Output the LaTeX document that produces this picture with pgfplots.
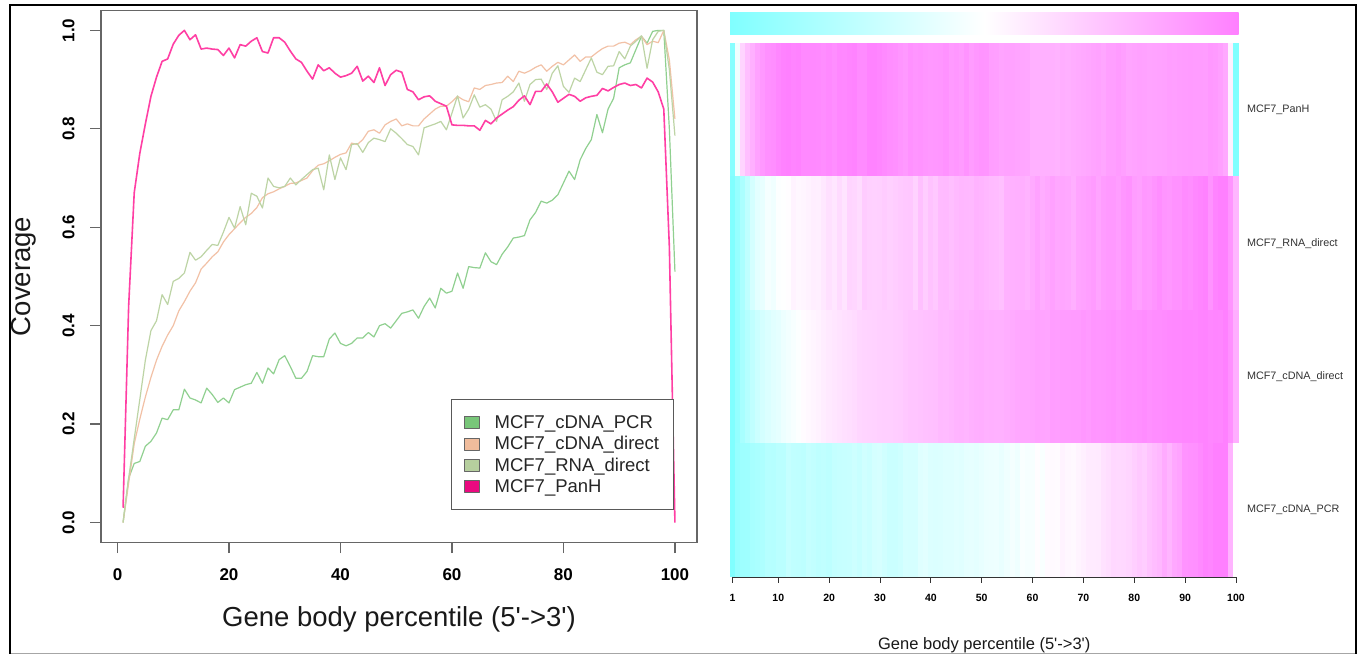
\documentclass[border=0pt]{standalone}
\usepackage{fontspec}
\setmainfont{Liberation Sans}[Ligatures=TeXOff]
\usepackage{pgfplots}
\usepackage{pgfplotstable}
\pgfplotsset{compat=1.18}
\newcommand{\fs}[1]{\fontsize{#1}{#1}\selectfont}
\definecolor{pcrline}{HTML}{90D090}
\definecolor{pcrfill}{HTML}{78C679}
\definecolor{cdnaline}{HTML}{F2C1A6}
\definecolor{cdnafill}{HTML}{F0BC9C}
\definecolor{rnaline}{HTML}{BDD4A5}
\definecolor{rnafill}{HTML}{B6CF9E}
\definecolor{panhline}{HTML}{FF3FA4}
\definecolor{panhfill}{HTML}{EA0A80}
\definecolor{cmcyan}{rgb}{0.5,1,1}
\definecolor{cmmag}{rgb}{1,0.5,1}
\pgfdeclareplotmark{hcell}{\pgfpathrectangle{\pgfqpoint{-2.7pt}{-67pt}}{\pgfqpoint{5.4pt}{134pt}}\pgfusepathqfill}

\pgfplotstableread{
x pcr cdna rna panh
1 0.00 0.00 0.00 0.03
2 0.09 0.08 0.09 0.44
3 0.12 0.16 0.17 0.67
4 0.124 0.21 0.25 0.75
5 0.155 0.255 0.33 0.81
6 0.165 0.295 0.39 0.866
7 0.182 0.33 0.41 0.905
8 0.212 0.358 0.463 0.937
9 0.209 0.381 0.443 0.942
10 0.229 0.40 0.49 0.972
11 0.229 0.43 0.496 0.99
12 0.271 0.449 0.507 1.0
13 0.253 0.47 0.549 0.981
14 0.249 0.487 0.533 0.991
15 0.243 0.515 0.54 0.962
16 0.273 0.527 0.553 0.964
17 0.26 0.54 0.565 0.962
18 0.244 0.55 0.563 0.961
19 0.253 0.57 0.59 0.949
20 0.243 0.585 0.62 0.964
21 0.27 0.597 0.598 0.944
22 0.275 0.609 0.642 0.971
23 0.28 0.62 0.605 0.968
24 0.283 0.628 0.669 0.978
25 0.305 0.64 0.663 0.985
26 0.283 0.66 0.639 0.957
27 0.314 0.668 0.70 0.954
28 0.302 0.672 0.683 0.985
29 0.331 0.678 0.68 0.985
30 0.339 0.683 0.683 0.976
31 0.317 0.689 0.70 0.958
32 0.293 0.69 0.686 0.942
33 0.293 0.695 0.697 0.935
34 0.307 0.70 0.707 0.917
35 0.339 0.715 0.717 0.901
36 0.337 0.726 0.72 0.93
37 0.337 0.729 0.676 0.918
38 0.373 0.735 0.747 0.924
39 0.385 0.742 0.697 0.913
40 0.364 0.748 0.741 0.905
41 0.359 0.751 0.717 0.908
42 0.364 0.771 0.768 0.913
43 0.375 0.768 0.77 0.927
44 0.375 0.778 0.752 0.897
45 0.386 0.795 0.772 0.907
46 0.377 0.798 0.781 0.894
47 0.40 0.791 0.778 0.924
48 0.404 0.808 0.774 0.888
49 0.395 0.815 0.80 0.91
50 0.41 0.82 0.791 0.919
51 0.425 0.806 0.78 0.915
52 0.428 0.81 0.768 0.88
53 0.432 0.806 0.764 0.875
54 0.415 0.806 0.747 0.859
55 0.439 0.82 0.802 0.865
56 0.456 0.83 0.806 0.867
57 0.436 0.84 0.81 0.856
58 0.476 0.846 0.815 0.851
59 0.466 0.846 0.798 0.846
60 0.47 0.855 0.832 0.808
61 0.507 0.866 0.867 0.807
62 0.476 0.859 0.822 0.807
63 0.52 0.855 0.84 0.806
64 0.518 0.883 0.869 0.806
65 0.517 0.88 0.844 0.797
66 0.548 0.888 0.849 0.817
67 0.53 0.89 0.84 0.81
68 0.524 0.893 0.815 0.822
69 0.545 0.894 0.859 0.83
70 0.56 0.907 0.866 0.838
71 0.578 0.896 0.875 0.845
72 0.58 0.917 0.893 0.858
73 0.583 0.913 0.856 0.867
74 0.615 0.918 0.89 0.849
75 0.63 0.925 0.90 0.876
76 0.653 0.93 0.901 0.876
77 0.649 0.917 0.88 0.891
78 0.655 0.927 0.913 0.875
79 0.666 0.935 0.928 0.854
80 0.69 0.93 0.886 0.862
81 0.714 0.94 0.874 0.87
82 0.697 0.95 0.903 0.866
83 0.737 0.937 0.896 0.856
84 0.76 0.946 0.92 0.863
85 0.778 0.946 0.944 0.866
86 0.829 0.955 0.915 0.868
87 0.792 0.963 0.91 0.882
88 0.84 0.968 0.927 0.877
89 0.862 0.968 0.928 0.884
90 0.924 0.974 0.957 0.89
91 0.93 0.976 0.942 0.893
92 0.934 0.971 0.968 0.888
93 0.961 0.981 0.978 0.89
94 0.988 0.988 0.989 0.883
95 0.974 0.971 0.923 0.903
96 0.998 0.978 0.981 0.895
97 1.0 0.975 0.998 0.875
98 1.0 1.0 1.0 0.84
99 0.80 0.94 0.92 0.56
100 0.51 0.82 0.786 0.0
}\covdata

\begin{document}
\begin{tikzpicture}
\useasboundingbox (0pt,0pt) rectangle (1364pt,655pt);
\fill[white] (0pt,0pt) rectangle (1364pt,655pt);

% ---------------- left: coverage line plot ----------------
\begin{axis}[
  at={(101pt,112.8pt)}, anchor=south west, scale only axis,
  width=596pt, height=531.5pt,
  xmin=-2.96, xmax=103.96, ymin=-0.04, ymax=1.04,
  xtick={0,20,40,60,80,100}, ytick={0,0.2,0.4,0.6,0.8,1},
  xtick pos=left, ytick pos=left,
  tick align=outside, major tick length=11pt,
  tick style={black!60, line width=1.3pt},
  axis line style={black!60, line width=1.3pt},
  /pgf/number format/assume math mode=true,
  ticklabel style={font=\bfseries\fs{17}, text=black},
  xticklabel shift=12pt, yticklabel shift=12pt,
  yticklabel style={rotate=90, anchor=south, /pgf/number format/.cd, fixed, fixed zerofill, precision=1},
  clip=false,
  legend cell align=left,
  legend style={at={(rel axis cs:0.588,0.2694)}, anchor=north west,
    draw=black!65, line width=1pt, font=\fs{18.5}, text=black!85,
    inner xsep=12pt, inner ysep=14pt, row sep=2.5pt,
    /tikz/every odd column/.append style={column sep=13pt}},
]
\addplot[pcrline, line width=1.2pt, no marks, line join=round,
  legend image code/.code={\draw[draw=black!60, line width=0.7pt, fill=pcrfill] (0pt,-6pt) rectangle (15pt,6pt);}]
  table[x=x, y=pcr]{\covdata};
\addlegendentry{MCF7\_cDNA\_PCR}
\addplot[cdnaline, line width=1.2pt, no marks, line join=round,
  legend image code/.code={\draw[draw=black!60, line width=0.7pt, fill=cdnafill] (0pt,-6pt) rectangle (15pt,6pt);}]
  table[x=x, y=cdna]{\covdata};
\addlegendentry{MCF7\_cDNA\_direct}
\addplot[rnaline, line width=1.2pt, no marks, line join=round,
  legend image code/.code={\draw[draw=black!60, line width=0.7pt, fill=rnafill] (0pt,-6pt) rectangle (15pt,6pt);}]
  table[x=x, y=rna]{\covdata};
\addlegendentry{MCF7\_RNA\_direct}
\addplot[panhline, line width=1.6pt, no marks, line join=round,
  legend image code/.code={\draw[draw=black!60, line width=0.7pt, fill=panhfill] (0pt,-6pt) rectangle (15pt,6pt);}]
  table[x=x, y=panh]{\covdata};
\addlegendentry{MCF7\_PanH}
\node[font=\fs{27.5}, text=black!90] at (rel axis cs:0.5,-0.145) {Gene body percentile (5'->3')};
\node[font=\fs{27.5}, text=black!90, rotate=90] at (rel axis cs:-0.1295,0.5) {Coverage};
\end{axis}

% ---------------- right: heatmap ----------------
\begin{axis}[
  at={(730pt,78pt)}, anchor=south west, scale only axis,
  width=508.5pt, height=534pt,
  xmin=0.5, xmax=100.5, ymin=0.5, ymax=4.5,
  axis line style={draw=none},
  ytick=\empty,
  xtick={1,10,20,30,40,50,60,70,80,90,100},
  xtick pos=left, xtick align=outside, major tick length=6pt,
  tick style={black!80, line width=0.8pt},
  /pgf/number format/assume math mode=true,
  xticklabel style={font=\bfseries\fs{10.5}, text=black},
  xticklabel shift=8pt,
  colormap={cmcol}{rgb=(0.5,1,1) rgb=(1,1,1) rgb=(1,0.5,1)},
  point meta min=0, point meta max=1,
  clip=false,
]
\addplot[scatter, only marks, mark=hcell, point meta=explicit,
  scatter/use mapped color={draw=mapped color, fill=mapped color}]
  table[x=x, y expr=4, meta=panh]{\covdata};
\addplot[scatter, only marks, mark=hcell, point meta=explicit,
  scatter/use mapped color={draw=mapped color, fill=mapped color}]
  table[x=x, y expr=3, meta=rna]{\covdata};
\addplot[scatter, only marks, mark=hcell, point meta=explicit,
  scatter/use mapped color={draw=mapped color, fill=mapped color}]
  table[x=x, y expr=2, meta=cdna]{\covdata};
\addplot[scatter, only marks, mark=hcell, point meta=explicit,
  scatter/use mapped color={draw=mapped color, fill=mapped color}]
  table[x=x, y expr=1, meta=pcr]{\covdata};
\shade[left color=cmcyan, right color=cmmag, middle color=white]
  (axis cs:0.5,4.56) rectangle (axis cs:100.5,4.725);
\draw[black!80, line width=0.8pt] (axis cs:1,0.5) -- (axis cs:100,0.5);
\node[anchor=west, xshift=5pt, font=\fs{10.8}, text=black!80] at (axis cs:100.5,4) {MCF7\_PanH};
\node[anchor=west, xshift=5pt, font=\fs{10.8}, text=black!80] at (axis cs:100.5,3) {MCF7\_RNA\_direct};
\node[anchor=west, xshift=5pt, font=\fs{10.8}, text=black!80] at (axis cs:100.5,2) {MCF7\_cDNA\_direct};
\node[anchor=west, xshift=5pt, font=\fs{10.8}, text=black!80] at (axis cs:100.5,1) {MCF7\_cDNA\_PCR};
\node[font=\fs{16.5}, text=black!90] at (rel axis cs:0.5,-0.1273) {Gene body percentile (5'->3')};
\end{axis}

% ---------------- outer frame ----------------
\draw[black!35, line width=1pt] (10pt,1pt) -- (1356pt,1pt);
\draw[black, line width=2.5pt] (10pt,1pt) -- (10pt,650pt) -- (1356pt,650pt) -- (1356pt,1pt);
\end{tikzpicture}
\end{document}
